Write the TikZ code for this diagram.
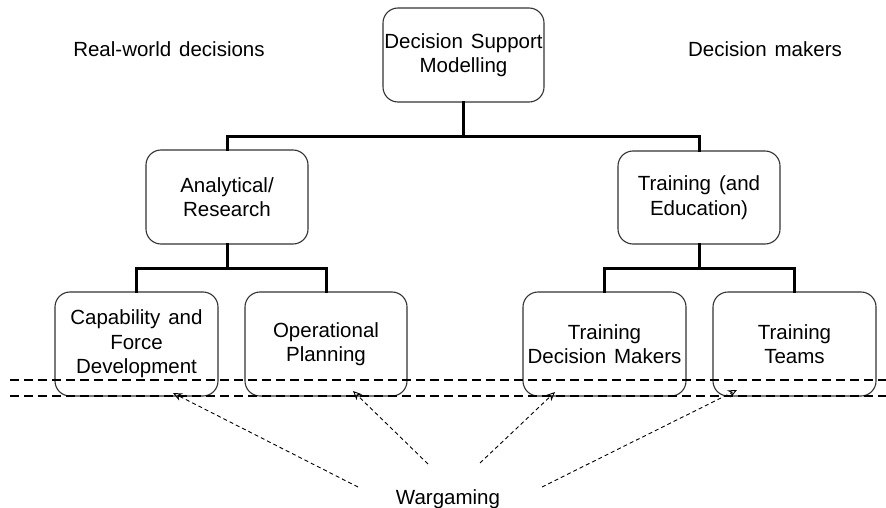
\documentclass[tikz,border=0pt]{standalone}
\usepackage{fontspec}
\setmainfont[WordSpace={1.4,1,1}]{Liberation Sans}
\usetikzlibrary{arrows.meta}
\begin{document}
\begin{tikzpicture}[x=1pt,y=-1pt,
  box/.style={draw=black!80, line width=1.1pt, rounded corners=15pt, fill=white,
    align=center, inner sep=0pt, font=\fontsize{20.5}{24.5}\selectfont},
  lbl/.style={font=\fontsize{20.5}{24.5}\selectfont, inner sep=0pt},
  tree/.style={line width=3pt, line cap=rect},
  band/.style={line width=1.4pt, dash pattern=on 9pt off 5pt},
  wg/.style={line width=0.9pt, dash pattern=on 4pt off 3pt, -{Stealth[open,length=9pt,width=8pt]}}]
\useasboundingbox (0,0) rectangle (886,508);
% boxes
\node[box, minimum width=161pt, minimum height=94pt] (top) at (463.5,55) {Decision Support\\Modelling};
\node[box, minimum width=162pt, minimum height=94pt] (ana) at (227,197) {Analytical/\\Research};
\node[box, minimum width=162pt, minimum height=93pt] (trn) at (699,197.5) {Training (and\\Education)};
\node[box, minimum width=163pt, minimum height=104pt] (cap) at (136.5,344) {Capability and\\Force\\Development};
\node[box, minimum width=162pt, minimum height=104pt] (ops) at (326,344) {Operational\\Planning};
\node[box, minimum width=163pt, minimum height=104pt] (tdm) at (604.5,344) {Training\\Decision Makers};
\node[box, minimum width=163pt, minimum height=104pt] (tt) at (794.5,344) {Training\\Teams};
% labels
\node[lbl, anchor=base] (rw) at (169,57) {Real-world decisions};
\node[lbl, anchor=base] (dm) at (765,57) {Decision makers};
\node[lbl, anchor=base] (wgm) at (448,504) {Wargaming};
% tree connectors
\coordinate (b1) at (463.5,137);
\coordinate (b2) at (227,268);
\coordinate (b3) at (699,268);
\draw[tree] (top.south) -- (b1);
\draw[tree] (ana.north) |- (b1) -| (trn.north);
\draw[tree] (ana.south) -- (b2);
\draw[tree] (cap.north) |- (b2) -| (ops.north);
\draw[tree] (trn.south) -- (b3);
\draw[tree] (tdm.north) |- (b3) -| (tt.north);
% dashed band
\coordinate (l1) at (10,380); \coordinate (r1) at (886,380);
\coordinate (l2) at (10,396); \coordinate (r2) at (886,396);
\draw[band] (l1) -- (r1);
\draw[band] (l2) -- (r2);
% wargaming arrows
\coordinate (s1) at (358,487); \coordinate (h1) at (173,393);
\coordinate (s2) at (428,464); \coordinate (h2) at (353,391);
\coordinate (s3) at (480,463); \coordinate (h3) at (555,392);
\coordinate (s4) at (542,487); \coordinate (h4) at (737,390);
\draw[wg] (s1) -- (h1);
\draw[wg] (s2) -- (h2);
\draw[wg] (s3) -- (h3);
\draw[wg] (s4) -- (h4);
\end{tikzpicture}
\end{document}
